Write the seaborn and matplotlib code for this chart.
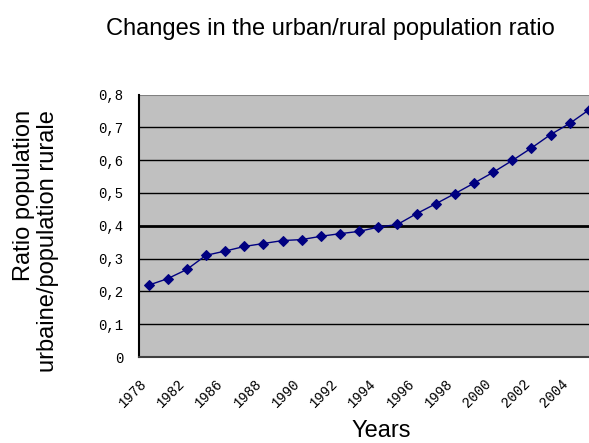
import numpy as np
import pandas as pd
import matplotlib
matplotlib.use('Agg')
import matplotlib.pyplot as plt
import matplotlib.transforms as mtransforms
import seaborn as sns

# categories along the x axis (one point each)
years = ['1978', '1980', '1982', '1984', '1986', '1987', '1988', '1989', '1990', '1991',
         '1992', '1993', '1994', '1995', '1996', '1997', '1998', '1999', '2000', '2001',
         '2002', '2003', '2004', '2005']
# ratio urban / rural population
ratio = [0.219, 0.239, 0.267, 0.310, 0.323, 0.337, 0.346, 0.355, 0.358, 0.368,
         0.376, 0.383, 0.396, 0.404, 0.437, 0.467, 0.498, 0.530, 0.563, 0.599,
         0.637, 0.678, 0.712, 0.753]
# only every second year gets a label
shown_years = ['1978', '1982', '1986', '1988', '1990', '1992', '1994', '1996',
               '1998', '2000', '2002', '2004']
y_ticks = [0, 0.1, 0.2, 0.3, 0.4, 0.5, 0.6, 0.7, 0.8]

title = 'Changes in the urban/rural population ratio'
y_title = 'Ratio population\nurbaine/population rurale'
x_title = 'Years'

sns.set_style('white')
plt.rcParams['font.family'] = ['Liberation Sans', 'DejaVu Sans']
plt.rcParams['text.color'] = 'black'
plt.rcParams['xtick.color'] = 'black'
plt.rcParams['ytick.color'] = 'black'

df = pd.DataFrame({'year': years, 'ratio': ratio})

fig = plt.figure(figsize=(5.89, 4.43), dpi=100)
ax = fig.add_axes([0.236, 0.194, 0.780, 0.5926])
ax.set_facecolor('#c0c0c0')

# horizontal grid lines (0.4 drawn heavier as in the original)
for v in y_ticks[1:-1]:
    ax.axhline(v, color='black', lw=2.0 if v == 0.4 else 1.0, zorder=1)
ax.axhline(0.8, color='#808080', lw=1.5, zorder=1)

sns.pointplot(data=df, x='year', y='ratio', ax=ax, color='#000080',
              markers='D', markersize=5.5, linewidth=1.0, errorbar=None, zorder=3)

ax.set_xlim(-0.5, len(years) - 0.5)
ax.set_ylim(0, 0.8)

for side in ['top', 'right']:
    ax.spines[side].set_visible(False)
ax.spines['left'].set_color('black')
ax.spines['left'].set_linewidth(1.5)
ax.spines['bottom'].set_color('#404040')
ax.spines['bottom'].set_linewidth(1.5)

# y ticks, French decimal comma
ax.set_yticks(y_ticks)
ax.set_yticklabels(['0' if v == 0 else '{:.1f}'.format(v).replace('.', ',') for v in y_ticks],
                   family='Liberation Mono', fontsize=10)
ax.tick_params(axis='y', length=0, pad=11.5, labelcolor='black')

# x ticks: small marks between categories, labels every other year
idx = [years.index(y) for y in shown_years]
ax.set_xticks(idx)
ax.set_xticklabels(shown_years, family='Liberation Mono', fontsize=10,
                   rotation=45, ha='right', va='top', rotation_mode='anchor')
ax.tick_params(axis='x', length=0, pad=14, labelcolor='black')
offset = mtransforms.ScaledTranslation(-9 / 100, 0, fig.dpi_scale_trans)
for lab in ax.get_xticklabels():
    lab.set_transform(lab.get_transform() + offset)
minor = [i + 0.5 for i in range(1, len(years) - 1) if i != 13]
ax.set_xticks(minor, minor=True)
ax.tick_params(axis='x', which='minor', direction='in', length=3, width=1, color='black')

ax.set_xlabel('')
ax.set_ylabel('')

fig.text(330 / 589, 1 - 29 / 443, title, ha='center', va='center', fontsize=17)
fig.text(36 / 589, 1 - 110 / 443, y_title, rotation=90, ha='center', va='top',
         multialignment='right', fontsize=17, linespacing=1.1)
fig.text(381 / 589, 1 - 431 / 443, x_title, ha='center', va='center', fontsize=17)

fig.savefig('out.png', dpi=100, facecolor='white')
